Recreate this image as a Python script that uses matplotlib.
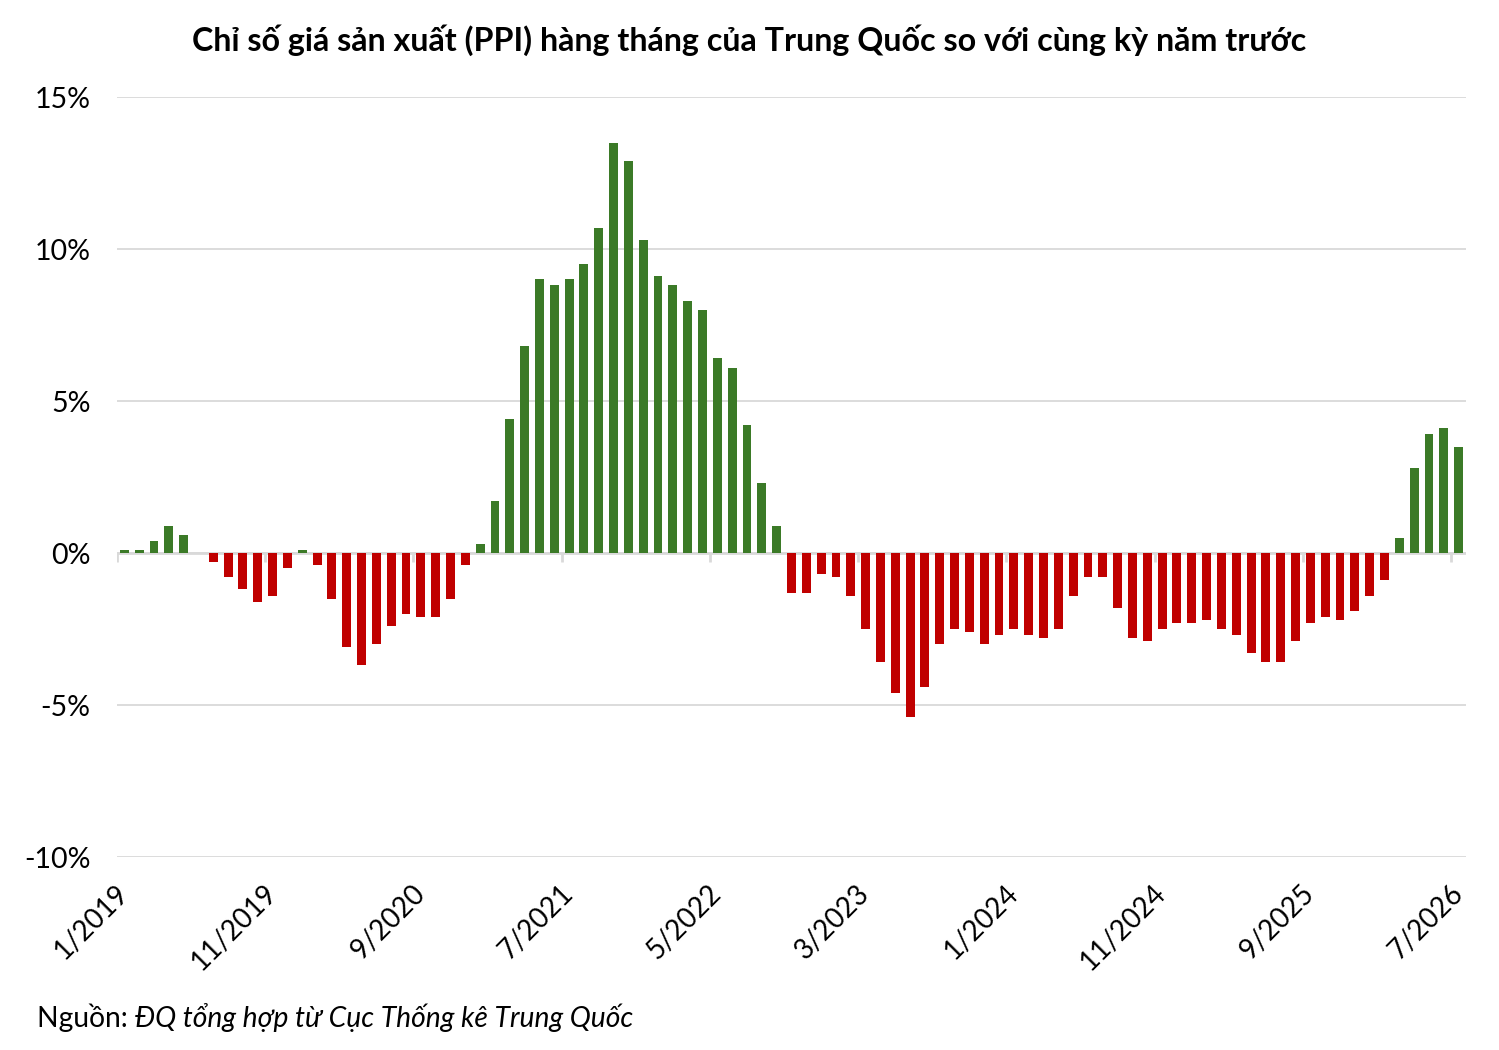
import matplotlib
matplotlib.use('Agg')
import matplotlib.pyplot as plt
import numpy as np

plt.rcParams['font.family'] = ['Lato', 'DejaVu Sans']

# PPI so voi cung ky, 1/2019 - 7/2026 (%)
ppi = [
    0.1, 0.1, 0.4, 0.9, 0.6, 0.0, -0.3, -0.8, -1.2, -1.6, -1.4, -0.5,   # 2019
    0.1, -0.4, -1.5, -3.1, -3.7, -3.0, -2.4, -2.0, -2.1, -2.1, -1.5, -0.4,  # 2020
    0.3, 1.7, 4.4, 6.8, 9.0, 8.8, 9.0, 9.5, 10.7, 13.5, 12.9, 10.3,  # 2021
    9.1, 8.8, 8.3, 8.0, 6.4, 6.1, 4.2, 2.3, 0.9, -1.3, -1.3, -0.7,   # 2022
    -0.8, -1.4, -2.5, -3.6, -4.6, -5.4, -4.4, -3.0, -2.5, -2.6, -3.0, -2.7,  # 2023
    -2.5, -2.7, -2.8, -2.5, -1.4, -0.8, -0.8, -1.8, -2.8, -2.9, -2.5, -2.3,  # 2024
    -2.3, -2.2, -2.5, -2.7, -3.3, -3.6, -3.6, -2.9, -2.3, -2.1, -2.2, -1.9,  # 2025
    -1.4, -0.9, 0.5, 2.8, 3.9, 4.1, 3.5,  # 2026
]
months = [f'{m}/{y}' for y in range(2019, 2027) for m in range(1, 13)][:len(ppi)]
label_step = 10

green = '#3B7A27'
red = '#C00000'
grey = '#D9D9D9'

fig = plt.figure(figsize=(14.99, 10.5), dpi=100)
ax = fig.add_axes([0.078, 0.1838, 0.900, 0.7238])

x = np.arange(len(ppi))
colors = [green if v >= 0 else red for v in ppi]
ax.bar(x, ppi, width=0.6, color=colors, zorder=3)

ax.set_ylim(-10, 15)
ax.set_xlim(-0.5, len(ppi) - 0.5)
ax.set_yticks([-10, -5, 0, 5, 10, 15])
ax.set_yticklabels([f'{v}%' for v in [-10, -5, 0, 5, 10, 15]])
ax.yaxis.grid(True, color=grey, linewidth=1.3, zorder=0)
ax.tick_params(axis='y', length=0, pad=19, labelsize=20.5)

# zero line and tick marks at category boundaries
ax.axhline(0, color=grey, linewidth=2, zorder=2)
bounds = x[::label_step] - 0.5
ax.vlines(bounds, -0.3, 0, color=grey, linewidth=2, zorder=2)

ax.set_xticks(x[::label_step])
ax.set_xticklabels(months[::label_step], rotation=45, ha='right', va='center',
                   rotation_mode='anchor', fontsize=20)
ax.tick_params(axis='x', length=0, pad=23)

for s in ax.spines.values():
    s.set_visible(False)

fig.text(0.5, 0.962, 'Chỉ số giá sản xuất (PPI) hàng tháng của Trung Quốc so với cùng kỳ năm trước',
         ha='center', va='center', fontsize=23.2, fontweight='bold')

t1 = fig.text(0.025, 0.022, 'Nguồn: ', ha='left', va='baseline', fontsize=20.3)
fig.canvas.draw()
bb = t1.get_window_extent(fig.canvas.get_renderer())
x2 = bb.x1 / fig.bbox.width
fig.text(x2, 0.022, 'ĐQ tổng hợp từ Cục Thống kê Trung Quốc', ha='left', va='baseline',
         fontsize=20.3, style='italic')

fig.savefig('out.png', dpi=100)
